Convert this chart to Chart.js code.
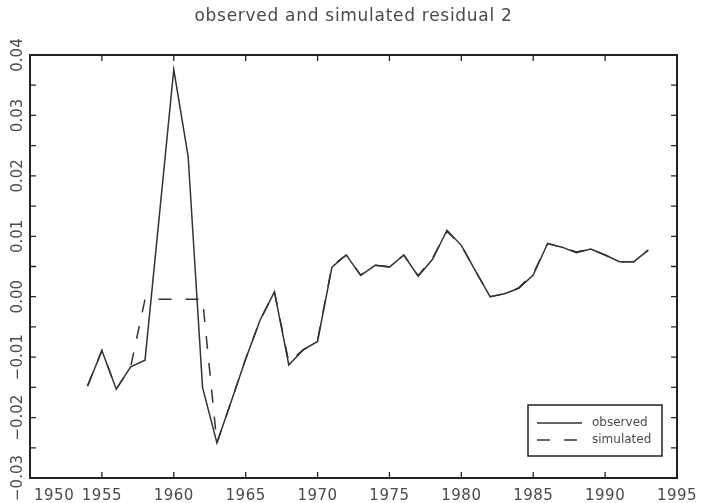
<!DOCTYPE html>
<html>
<head>
<meta charset="utf-8">
<style>
  html, body { margin: 0; padding: 0; background: #fff; }
  #wrap { width: 702px; height: 503px; position: relative; }
</style>
</head>
<body>
<div id="wrap"><canvas id="chart"></canvas></div>
<script src="https://cdn.jsdelivr.net/npm/chart.js@4.4.1/dist/chart.umd.min.js"></script>
<script>
// data
const years = [1954, 1955, 1956, 1957, 1958, 1959, 1960, 1961, 1962, 1963,
  1964, 1965, 1966, 1967, 1968, 1969, 1970, 1971, 1972, 1973,
  1974, 1975, 1976, 1977, 1978, 1979, 1980, 1981, 1982, 1983,
  1984, 1985, 1986, 1987, 1988, 1989, 1990, 1991, 1992, 1993];
const observed = [-0.0148, -0.0089, -0.0153, -0.0116, -0.0105, 0.0135, 0.0376, 0.0232, -0.0150, -0.0242,
  -0.0173, -0.0103, -0.0039, 0.0008, -0.0113, -0.0088, -0.0074, 0.0049, 0.0069, 0.0035,
  0.0052, 0.0049, 0.0069, 0.0034, 0.0062, 0.0110, 0.0085, 0.0042, 0.0000, 0.0005,
  0.0014, 0.0036, 0.0088, 0.0082, 0.0073, 0.0079, 0.0069, 0.0058, 0.0058, 0.0077];
const simulated = [-0.0148, -0.0089, -0.0153, -0.0116, -0.0004, -0.0004, -0.0004, -0.0004, -0.0004, -0.0242,
  -0.0173, -0.0103, -0.0039, 0.0008, -0.0108, -0.0088, -0.0072, 0.0051, 0.0069, 0.0036,
  0.0052, 0.0050, 0.0069, 0.0035, 0.0064, 0.0108, 0.0085, 0.0042, 0.0000, 0.0005,
  0.0015, 0.0038, 0.0088, 0.0082, 0.0074, 0.0079, 0.0069, 0.0058, 0.0058, 0.0077];

const xTicks = [1950, 1955, 1960, 1965, 1970, 1975, 1980, 1985, 1990, 1995];
const yTicks = [-0.03, -0.02, -0.01, 0.00, 0.01, 0.02, 0.03, 0.04];
const yMinorTicks = [-0.025, -0.015, -0.005, 0.005, 0.015, 0.025, 0.035];
const titleText = 'observed and simulated residual 2';

const ink = '#333';
const textInk = '#4a4a4a';

function fitText(ctx, str, width) {
  ctx.letterSpacing = '0px';
  const w = ctx.measureText(str).width;
  const sp = (width - w) / str.length;
  ctx.letterSpacing = sp + 'px';
}

const decor = {
  id: 'decor',
  afterDatasetsDraw(chart) {
    const { ctx, chartArea: a, scales: { x, y } } = chart;
    ctx.save();

    // frame
    ctx.strokeStyle = '#222';
    ctx.lineWidth = 2;
    ctx.strokeRect(a.left, a.top, a.right - a.left, a.bottom - a.top);

    // inward ticks on all four sides
    ctx.lineWidth = 1.3;
    ctx.beginPath();
    xTicks.forEach(v => {
      const px = x.getPixelForValue(v);
      ctx.moveTo(px, a.bottom); ctx.lineTo(px, a.bottom - 6);
      ctx.moveTo(px, a.top); ctx.lineTo(px, a.top + 6);
    });
    yTicks.concat(yMinorTicks).forEach(v => {
      const py = y.getPixelForValue(v);
      ctx.moveTo(a.left, py); ctx.lineTo(a.left + 6, py);
      ctx.moveTo(a.right, py); ctx.lineTo(a.right - 6, py);
    });
    ctx.stroke();

    // x labels
    ctx.fillStyle = textInk;
    ctx.font = '15px "DejaVu Sans"';
    ctx.letterSpacing = '0.5px';
    ctx.textAlign = 'center';
    ctx.textBaseline = 'alphabetic';
    xTicks.forEach(v => {
      const s = String(v);
      const w = ctx.measureText(s).width;
      let px = x.getPixelForValue(v);
      px = Math.max(px, a.left + 4 + w / 2);
      ctx.fillText(s, px, 500);
    });

    // y labels, rotated
    ctx.letterSpacing = '0px';
    yTicks.forEach(v => {
      const s = v.toFixed(2).replace('-', '\u2212');
      const py = y.getPixelForValue(v);
      ctx.save();
      ctx.translate(22, py);
      ctx.rotate(-Math.PI / 2);
      ctx.fillText(s, 0, 0);
      ctx.restore();
    });

    // title
    ctx.font = '17px "DejaVu Sans"';
    fitText(ctx, titleText, 318);
    ctx.fillText(titleText, (a.left + a.right) / 2, 21);
    ctx.letterSpacing = '0px';

    // legend box
    const bx = a.right - 149, by = a.bottom - 73, bw = 134, bh = 51;
    ctx.strokeStyle = '#222';
    ctx.lineWidth = 1.5;
    ctx.strokeRect(bx, by, bw, bh);
    ctx.font = '12px "DejaVu Sans"';
    ctx.textAlign = 'left';
    ctx.textBaseline = 'middle';
    chart.data.datasets.forEach((ds, i) => {
      const ly = by + 18 + i * 17;
      ctx.strokeStyle = ink;
      ctx.lineWidth = 1.4;
      ctx.setLineDash(ds.borderDash || []);
      ctx.beginPath();
      ctx.moveTo(bx + 9, ly);
      ctx.lineTo(bx + 54, ly);
      ctx.stroke();
      ctx.setLineDash([]);
      ctx.fillText(ds.label, bx + 64, ly);
    });

    ctx.restore();
  }
};

new Chart(document.getElementById('chart'), {
  type: 'line',
  data: {
    labels: years,
    datasets: [
      {
        label: 'observed',
        data: years.map((yr, i) => ({ x: yr, y: observed[i] })),
        borderColor: ink,
        borderWidth: 1.5,
        pointRadius: 0,
        tension: 0
      },
      {
        label: 'simulated',
        data: years.map((yr, i) => ({ x: yr, y: simulated[i] })),
        borderColor: ink,
        borderWidth: 1.5,
        borderDash: [13, 14],
        pointRadius: 0,
        tension: 0
      }
    ]
  },
  options: {
    responsive: true,
    maintainAspectRatio: false,
    animation: false,
    layout: { padding: { left: 30, right: 25, top: 55, bottom: 25 } },
    plugins: { legend: { display: false }, tooltip: { enabled: false }, title: { display: false } },
    scales: {
      x: { type: 'linear', min: 1950, max: 1995, display: false },
      y: { type: 'linear', min: -0.03, max: 0.04, display: false }
    }
  },
  plugins: [decor]
});
</script>
</body>
</html>
